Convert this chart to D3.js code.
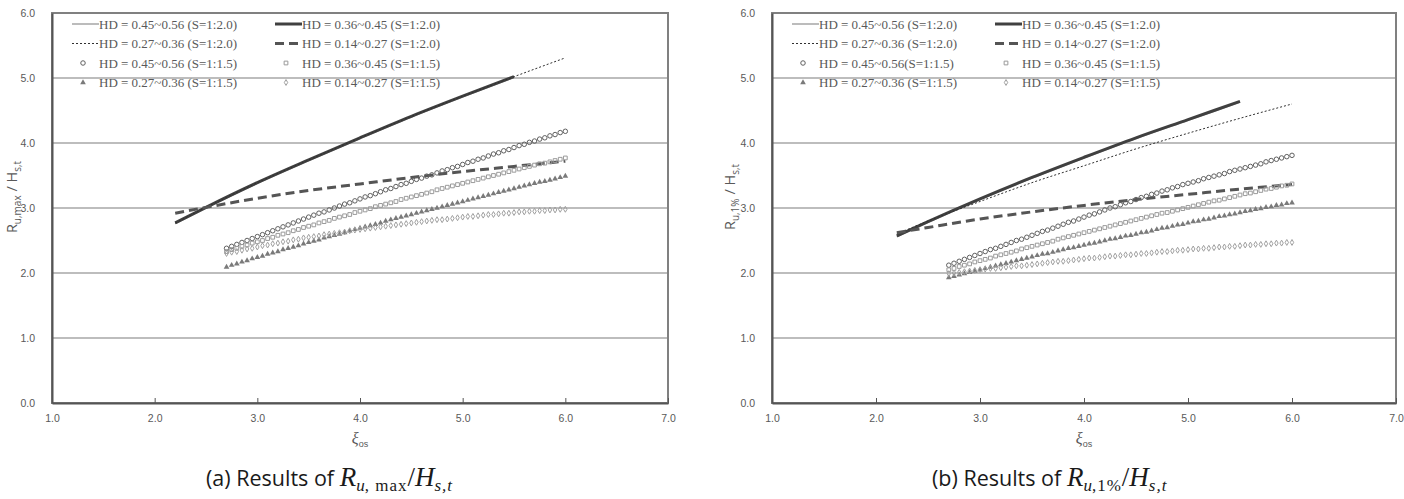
<!DOCTYPE html>
<html>
<head>
<meta charset="utf-8">
<script src="https://d3js.org/d3.v7.min.js"></script>
<style>
  body { margin: 0; background: #fff; }
</style>
</head>
<body>
<div id="chart"></div>
<script>
// x values of the S=1:1.5 marker series, and of the S=1:2.0 lines
const markX = [2.70, 2.75, 2.80, 2.85, 2.90, 2.95,
  3.00, 3.05, 3.10, 3.15, 3.20, 3.25, 3.30, 3.35, 3.40, 3.45,
  3.50, 3.55, 3.60, 3.65, 3.70, 3.75, 3.80, 3.85, 3.90, 3.95,
  4.00, 4.05, 4.10, 4.15, 4.20, 4.25, 4.30, 4.35, 4.40, 4.45,
  4.50, 4.55, 4.60, 4.65, 4.70, 4.75, 4.80, 4.85, 4.90, 4.95,
  5.00, 5.05, 5.10, 5.15, 5.20, 5.25, 5.30, 5.35, 5.40, 5.45,
  5.50, 5.55, 5.60, 5.65, 5.70, 5.75, 5.80, 5.85, 5.90, 5.95, 6.00];
const lineX = [2.2, 2.5, 3.0, 3.5, 4.0, 4.5, 5.0, 5.5, 6.0];

const xTicks = [1, 2, 3, 4, 5, 6, 7];
const yTicks = [0, 1, 2, 3, 4, 5, 6];

// (a) R_u,max / H_s,t  -- lines S=1:2.0
const aThinSolid  = [2.76, 3.00, 3.38, 3.73, 4.07, 4.40, 4.71, 5.01];
const aThickSolid = [2.77, 3.01, 3.39, 3.74, 4.08, 4.41, 4.72, 5.02];
const aThinDash   = [2.77, 3.01, 3.39, 3.74, 4.08, 4.41, 4.72, 5.02, 5.31];
const aThickDash  = [2.92, 3.01, 3.15, 3.27, 3.37, 3.47, 3.56, 3.64, 3.72];
// (a) markers S=1:1.5
const aCircle = [2.38, 2.41, 2.44, 2.47, 2.50, 2.53,
  2.56, 2.59, 2.62, 2.65, 2.68, 2.71, 2.74, 2.77, 2.80, 2.83,
  2.86, 2.89, 2.92, 2.94, 2.97, 3.00, 3.03, 3.06, 3.08, 3.11,
  3.14, 3.17, 3.19, 3.22, 3.25, 3.28, 3.30, 3.33, 3.36, 3.38,
  3.41, 3.44, 3.46, 3.49, 3.51, 3.54, 3.57, 3.59, 3.62, 3.64,
  3.67, 3.70, 3.72, 3.75, 3.77, 3.80, 3.83, 3.85, 3.88, 3.90,
  3.93, 3.96, 3.98, 4.01, 4.03, 4.06, 4.08, 4.11, 4.13, 4.16, 4.18];
const aSquare = [2.33, 2.36, 2.38, 2.41, 2.43, 2.46,
  2.48, 2.50, 2.53, 2.55, 2.58, 2.60, 2.62, 2.65, 2.67, 2.70,
  2.72, 2.74, 2.77, 2.79, 2.81, 2.84, 2.86, 2.88, 2.90, 2.93,
  2.95, 2.97, 2.99, 3.02, 3.04, 3.06, 3.08, 3.10, 3.13, 3.15,
  3.17, 3.19, 3.21, 3.23, 3.25, 3.28, 3.30, 3.32, 3.34, 3.36,
  3.38, 3.40, 3.42, 3.44, 3.46, 3.48, 3.50, 3.52, 3.54, 3.56,
  3.58, 3.60, 3.62, 3.64, 3.66, 3.68, 3.69, 3.71, 3.73, 3.75, 3.77];
const aTriangle = [2.09, 2.12, 2.14, 2.17, 2.19, 2.22,
  2.24, 2.26, 2.29, 2.31, 2.33, 2.36, 2.38, 2.40, 2.42, 2.45,
  2.47, 2.49, 2.51, 2.54, 2.56, 2.58, 2.60, 2.62, 2.65, 2.67,
  2.69, 2.71, 2.73, 2.75, 2.77, 2.80, 2.82, 2.84, 2.86, 2.88,
  2.90, 2.92, 2.94, 2.96, 2.98, 3.00, 3.02, 3.04, 3.06, 3.08,
  3.10, 3.12, 3.14, 3.16, 3.18, 3.20, 3.22, 3.24, 3.26, 3.28,
  3.30, 3.32, 3.34, 3.36, 3.38, 3.40, 3.41, 3.43, 3.45, 3.47, 3.49];
const aDiamond = [2.30, 2.32, 2.33, 2.35, 2.37, 2.38,
  2.40, 2.42, 2.43, 2.45, 2.46, 2.48, 2.49, 2.51, 2.52, 2.54,
  2.55, 2.56, 2.57, 2.59, 2.60, 2.61, 2.62, 2.63, 2.65, 2.66,
  2.67, 2.68, 2.69, 2.70, 2.71, 2.72, 2.73, 2.74, 2.75, 2.76,
  2.77, 2.78, 2.79, 2.80, 2.81, 2.82, 2.82, 2.83, 2.84, 2.85,
  2.86, 2.87, 2.87, 2.88, 2.89, 2.90, 2.90, 2.91, 2.92, 2.92,
  2.93, 2.94, 2.94, 2.95, 2.95, 2.96, 2.96, 2.97, 2.97, 2.98, 2.98];

// (b) R_u,1% / H_s,t  -- lines S=1:2.0
const bThinSolid  = [2.56, 2.78, 3.13, 3.46, 3.77, 4.07, 4.35, 4.63];
const bThickSolid = [2.57, 2.79, 3.14, 3.47, 3.78, 4.08, 4.36, 4.64];
const bThinDash   = [2.60, 2.80, 3.10, 3.39, 3.65, 3.91, 4.15, 4.38, 4.60];
const bThickDash  = [2.62, 2.70, 2.83, 2.94, 3.04, 3.13, 3.21, 3.29, 3.36];
// (b) markers S=1:1.5
const bCircle = [2.12, 2.15, 2.18, 2.21, 2.24, 2.27,
  2.30, 2.33, 2.36, 2.38, 2.41, 2.44, 2.47, 2.50, 2.52, 2.55,
  2.58, 2.61, 2.64, 2.66, 2.69, 2.72, 2.75, 2.78, 2.80, 2.83,
  2.86, 2.89, 2.91, 2.94, 2.97, 3.00, 3.02, 3.05, 3.08, 3.10,
  3.13, 3.16, 3.18, 3.21, 3.23, 3.26, 3.28, 3.31, 3.33, 3.36,
  3.38, 3.40, 3.42, 3.45, 3.47, 3.49, 3.51, 3.53, 3.56, 3.58,
  3.60, 3.62, 3.64, 3.66, 3.68, 3.71, 3.73, 3.75, 3.77, 3.79, 3.81];
const bSquare = [2.05, 2.07, 2.10, 2.12, 2.14, 2.17,
  2.19, 2.21, 2.23, 2.26, 2.28, 2.30, 2.32, 2.34, 2.37, 2.39,
  2.41, 2.43, 2.45, 2.47, 2.49, 2.52, 2.54, 2.56, 2.58, 2.60,
  2.62, 2.64, 2.66, 2.68, 2.70, 2.72, 2.74, 2.76, 2.78, 2.80,
  2.82, 2.84, 2.86, 2.88, 2.90, 2.92, 2.93, 2.95, 2.97, 2.99,
  3.01, 3.03, 3.05, 3.07, 3.09, 3.11, 3.12, 3.14, 3.16, 3.18,
  3.20, 3.22, 3.23, 3.25, 3.27, 3.29, 3.30, 3.32, 3.34, 3.35, 3.37];
const bTriangle = [1.93, 1.95, 1.97, 1.99, 2.01, 2.03,
  2.05, 2.07, 2.09, 2.11, 2.13, 2.15, 2.17, 2.19, 2.21, 2.23,
  2.25, 2.27, 2.29, 2.30, 2.32, 2.34, 2.36, 2.38, 2.39, 2.41,
  2.43, 2.45, 2.46, 2.48, 2.50, 2.52, 2.53, 2.55, 2.57, 2.58,
  2.60, 2.62, 2.63, 2.65, 2.67, 2.69, 2.70, 2.72, 2.74, 2.75,
  2.77, 2.79, 2.80, 2.82, 2.83, 2.85, 2.87, 2.88, 2.90, 2.91,
  2.93, 2.95, 2.96, 2.98, 2.99, 3.01, 3.02, 3.04, 3.05, 3.07, 3.08];
const bDiamond = [1.99, 2.00, 2.01, 2.02, 2.03, 2.04,
  2.05, 2.06, 2.07, 2.07, 2.08, 2.09, 2.10, 2.11, 2.11, 2.12,
  2.13, 2.14, 2.15, 2.16, 2.17, 2.18, 2.18, 2.19, 2.20, 2.21,
  2.22, 2.23, 2.23, 2.24, 2.25, 2.26, 2.26, 2.27, 2.28, 2.28,
  2.29, 2.30, 2.30, 2.31, 2.32, 2.33, 2.33, 2.34, 2.35, 2.35,
  2.36, 2.37, 2.37, 2.38, 2.38, 2.39, 2.40, 2.40, 2.41, 2.41,
  2.42, 2.43, 2.43, 2.44, 2.44, 2.45, 2.45, 2.46, 2.46, 2.47, 2.47];

const legendA = ["HD = 0.45~0.56 (S=1:2.0)", "HD = 0.36~0.45 (S=1:2.0)",
  "HD = 0.27~0.36 (S=1:2.0)", "HD = 0.14~0.27 (S=1:2.0)",
  "HD = 0.45~0.56 (S=1:1.5)", "HD = 0.36~0.45 (S=1:1.5)",
  "HD = 0.27~0.36 (S=1:1.5)", "HD = 0.14~0.27 (S=1:1.5)"];
const legendB = ["HD = 0.45~0.56 (S=1:2.0)", "HD = 0.36~0.45 (S=1:2.0)",
  "HD = 0.27~0.36 (S=1:2.0)", "HD = 0.14~0.27 (S=1:2.0)",
  "HD = 0.45~0.56(S=1:1.5)", "HD = 0.36~0.45 (S=1:1.5)",
  "HD = 0.27~0.36 (S=1:1.5)", "HD = 0.14~0.27 (S=1:1.5)"];

// styles
const lineStyles = [
  {stroke: "#a6a6a6", width: 1.5, dash: null},
  {stroke: "#404040", width: 3, dash: null},
  {stroke: "#303030", width: 1, dash: "2,2"},
  {stroke: "#555555", width: 3, dash: "9,5"}
];
const markStyles = [
  {type: d3.symbolCircle, size: 16, fill: "none", stroke: "#606060"},
  {type: d3.symbolSquare, size: 14, fill: "none", stroke: "#9a9a9a"},
  {type: d3.symbolTriangle, size: 14, fill: "#7a7a7a", stroke: "none"},
  {type: d3.symbolDiamond, size: 10, fill: "none", stroke: "#a0a0a0"}
];

const W = 1404, H = 499;
const svg = d3.select("#chart").append("svg")
  .attr("width", W).attr("height", H)
  .style("background", "#fff")
  .style("display", "block");

const axisColor = "#595959";
const tickFont = "'Liberation Sans', Arial, sans-serif";
const serif = "'Liberation Serif', 'Times New Roman', serif";

function drawPanel(p) {
  const x = d3.scaleLinear().domain([1, 7]).range([p.left, p.right]);
  const y = d3.scaleLinear().domain([0, 6]).range([403, 13]);
  const g = svg.append("g");

  // gridlines
  g.selectAll("line.grid").data(yTicks.filter(d => d > 0 && d < 6)).enter()
    .append("line").attr("class", "grid")
    .attr("x1", x(1)).attr("x2", x(7))
    .attr("y1", d => y(d)).attr("y2", d => y(d))
    .attr("stroke", "#bdbdbd").attr("stroke-width", 2);

  // frame
  g.append("rect").attr("x", x(1)).attr("y", y(6))
    .attr("width", x(7) - x(1)).attr("height", y(0) - y(6))
    .attr("fill", "none").attr("stroke", "#808080").attr("stroke-width", 2);

  // axes
  const xAxis = d3.axisBottom(x).tickValues(xTicks).tickFormat(d3.format(".1f"))
    .tickSizeInner(-5).tickSizeOuter(0).tickPadding(12);
  const gx = g.append("g").attr("transform", `translate(0,${y(0)})`).call(xAxis);
  gx.select(".domain").attr("stroke", "#555").attr("stroke-width", 2);
  gx.selectAll(".tick line").attr("stroke", "#555");
  gx.selectAll("text").attr("fill", axisColor).style("font-family", tickFont).style("font-size", "10.5px");

  const yAxis = d3.axisLeft(y).tickValues(yTicks).tickFormat(d3.format(".1f"))
    .tickSize(0).tickPadding(17);
  const gy = g.append("g").attr("transform", `translate(${x(1)},0)`).call(yAxis);
  gy.select(".domain").attr("stroke", "#555").attr("stroke-width", 2);
  gy.selectAll("text").attr("fill", axisColor).style("font-family", tickFont).style("font-size", "10.5px");

  // lines
  const line = d3.line().x(d => x(d[0])).y(d => y(d[1])).curve(d3.curveMonotoneX);
  p.lines.forEach((vals, i) => {
    const st = lineStyles[i];
    g.append("path").datum(vals.map((v, j) => [lineX[j], v]))
      .attr("d", line).attr("fill", "none")
      .attr("stroke", st.stroke).attr("stroke-width", st.width)
      .attr("stroke-dasharray", st.dash);
  });

  // markers
  p.marks.forEach((vals, i) => {
    const st = markStyles[i];
    const sym = d3.symbol().type(st.type).size(st.size);
    g.selectAll("path.m" + i).data(vals.map((v, j) => [markX[j], v])).enter()
      .append("path").attr("class", "m" + i)
      .attr("transform", d => `translate(${x(d[0])},${y(d[1])})`)
      .attr("d", sym).attr("fill", st.fill).attr("stroke", st.stroke).attr("stroke-width", 1);
  });

  // legend
  const x0 = x(1);
  const rows = [24, 43.5, 63, 82.5];
  const legend = g.append("g").style("font-family", serif).style("font-size", "13px").attr("fill", axisColor);
  p.legend.forEach((lab, i) => {
    const col = i % 2, row = Math.floor(i / 2);
    const ly = rows[row];
    const sx = x0 + (col === 0 ? 20 : 223);
    if (row < 2) {
      const st = lineStyles[i];
      legend.append("line").attr("x1", sx).attr("x2", sx + 27).attr("y1", ly).attr("y2", ly)
        .attr("stroke", st.stroke).attr("stroke-width", st.width).attr("stroke-dasharray", st.dash);
    } else {
      const st = markStyles[i - 4];
      legend.append("path").attr("transform", `translate(${sx + 11},${ly})`)
        .attr("d", d3.symbol().type(st.type).size(st.size)())
        .attr("fill", st.fill).attr("stroke", st.stroke).attr("stroke-width", 1);
    }
    legend.append("text").attr("x", sx + 27).attr("y", ly).attr("dy", "0.35em").text(lab);
  });

  // y title
  const yt = svg.append("text")
    .attr("transform", `translate(${p.yTitleX},197) rotate(-90)`)
    .attr("text-anchor", "middle").attr("fill", axisColor)
    .style("font-family", "'Open Sans', sans-serif").style("font-size", "14.5px");
  yt.append("tspan").text("R");
  yt.append("tspan").attr("dy", 4).style("font-size", "10px").text(p.ySub);
  yt.append("tspan").attr("dy", -4).text(" / H");
  yt.append("tspan").attr("dy", 4).style("font-size", "10px").text("s,t");

  // x title
  const xc = (x(1) + x(7)) / 2;
  const xt = svg.append("text").attr("x", xc).attr("y", 444)
    .attr("text-anchor", "middle").attr("fill", axisColor);
  xt.append("tspan").style("font-family", serif).style("font-style", "italic").style("font-size", "16px").text("ξ");
  xt.append("tspan").attr("dy", 3).style("font-family", tickFont).style("font-size", "9px").text("os");

  // caption
  const cap = svg.append("text").attr("x", p.capX).attr("y", 486).attr("fill", "#1a1a1a");
  cap.append("tspan").style("font-family", "'Open Sans', sans-serif").style("font-size", "21.5px").text(p.capLabel + " ");
  cap.append("tspan").style("font-family", serif).style("font-style", "italic").style("font-size", "27px").text("R");
  cap.append("tspan").attr("dy", 5).style("font-family", serif).style("font-style", "italic").style("font-size", "17px").text("u");
  cap.append("tspan").style("font-family", serif).style("font-size", "17px").style("letter-spacing", "1px").text(p.capSub);
  cap.append("tspan").attr("dy", -5).style("font-family", serif).style("font-size", "27px").text("/");
  cap.append("tspan").style("font-family", serif).style("font-style", "italic").style("font-size", "27px").text("H");
  cap.append("tspan").attr("dy", 5).style("font-family", serif).style("font-style", "italic").style("font-size", "17px").style("letter-spacing", "1px").text("s,t");
}

drawPanel({
  left: 52, right: 668,
  lines: [aThinSolid, aThickSolid, aThinDash, aThickDash],
  marks: [aCircle, aSquare, aTriangle, aDiamond],
  legend: legendA,
  yTitleX: 17, ySub: "u,max",
  capX: 206, capLabel: "(a) Results of", capSub: ", max"
});

drawPanel({
  left: 772, right: 1396,
  lines: [bThinSolid, bThickSolid, bThinDash, bThickDash],
  marks: [bCircle, bSquare, bTriangle, bDiamond],
  legend: legendB,
  yTitleX: 735, ySub: "u,1%",
  capX: 932, capLabel: "(b) Results of", capSub: ",1%"
});
</script>
</body>
</html>
